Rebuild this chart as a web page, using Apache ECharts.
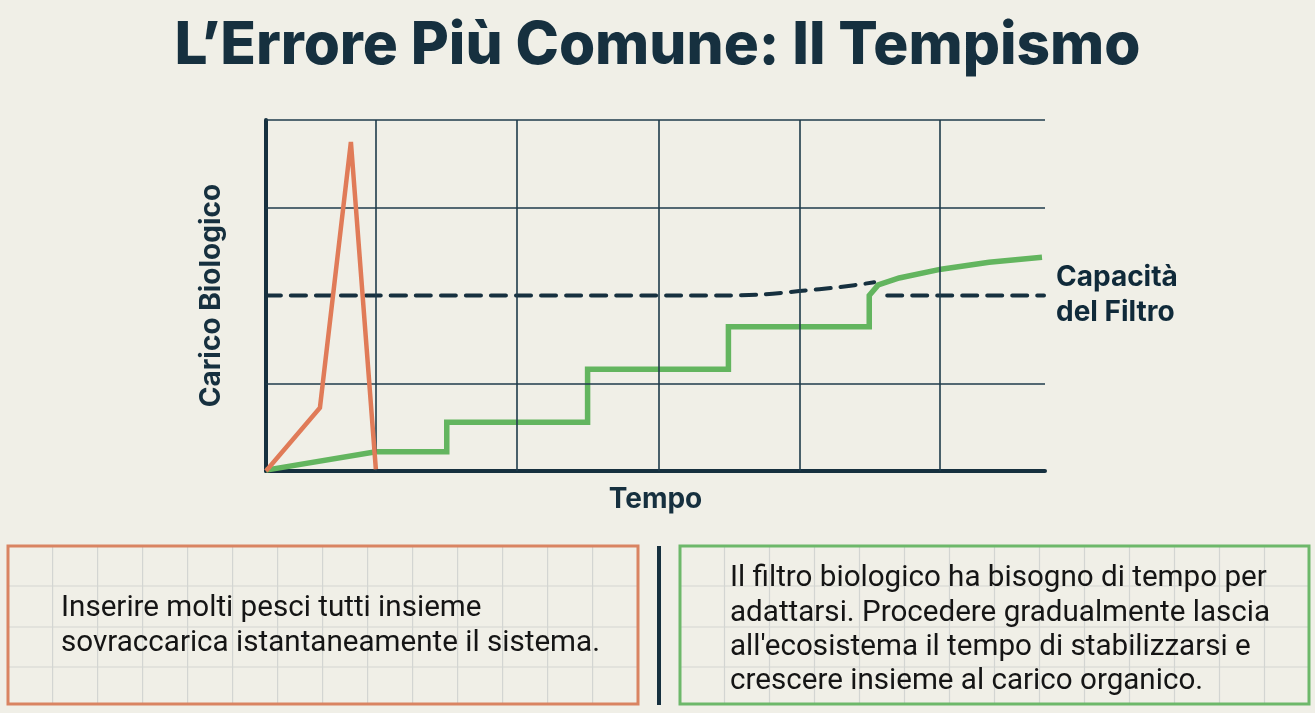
<!DOCTYPE html>
<html lang="it">
<head>
    <meta charset="UTF-8">
    <title>L'Errore Più Comune: Il Tempismo</title>
    <script src="https://cdn.jsdelivr.net/npm/echarts@6/dist/echarts.min.js"></script>
    <style>
        html, body { margin: 0; padding: 0; background: #f0efe7; }
        #main { width: 1315px; height: 713px; }
    </style>
</head>
<body>
<div id="main"></div>
<script>
    // dati (tempo in unità arbitrarie, carico 0-4)
    var picco = [[0, 0], [5.4, 0.72], [8.5, 3.75], [11.0, 0.02]];
    var graduale = [[0, 0.01], [11.0, 0.22], [18.1, 0.22], [18.1, 0.555], [32.2, 0.555], [32.2, 1.16],
        [46.3, 1.16], [46.3, 1.645], [60.4, 1.645], [60.4, 2.0], [61.3, 2.12], [63.4, 2.2],
        [67.6, 2.3], [72.4, 2.38], [77.7, 2.435]];
    var capacitaA = [[0, 2.0], [45.4, 2.0], [49.4, 2.01], [53.4, 2.05], [57.4, 2.095], [60.9, 2.15]];
    var capacitaB = [[62.2, 2.0], [77.9, 2.0]];
    var lineeVerticali = [11.0, 25.1, 39.3, 53.4, 67.5];
    var lineeOrizzontali = [1, 3, 4];

    var blu = '#16303f';
    var rosso = '#e07b58';
    var verde = '#63b55f';

    // riquadri in basso con la griglia da quaderno
    var grafica = [];
    function riquadro(x, w, colore, primaX) {
        grafica.push({type: 'rect', shape: {x: x, y: 546, width: w, height: 158},
            style: {fill: '#f0efe7', stroke: null}, z: 1});
        for (var gx = primaX; gx < x + w - 2; gx += 45) {
            grafica.push({type: 'line', shape: {x1: gx, y1: 547, x2: gx, y2: 703},
                style: {stroke: '#d3d5d2', lineWidth: 1.2}, z: 2});
        }
        [586, 627, 667].forEach(function (gy) {
            grafica.push({type: 'line', shape: {x1: x + 1, y1: gy, x2: x + w - 1, y2: gy},
                style: {stroke: '#d3d5d2', lineWidth: 1.2}, z: 2});
        });
        grafica.push({type: 'rect', shape: {x: x, y: 546, width: w, height: 158},
            style: {fill: null, stroke: colore, lineWidth: 3}, z: 3});
    }
    riquadro(8, 630, '#d98462', 52.6);
    riquadro(680, 629, '#6db86a', 724.5);
    grafica.push({type: 'line', shape: {x1: 659, y1: 546, x2: 659, y2: 705},
        style: {stroke: blu, lineWidth: 4}, z: 3});
    grafica.push({type: 'text', x: 61, y: 626, z: 4,
        style: {text: 'Inserire molti pesci tutti insieme\nsovraccarica istantaneamente il sistema.',
            font: '29.6px Roboto', fill: '#151515', lineHeight: 35, verticalAlign: 'middle'}});
    grafica.push({type: 'text', x: 730, y: 630.5, z: 4,
        style: {text: 'Il filtro biologico ha bisogno di tempo per\nadattarsi. Procedere gradualmente lascia\nall\'ecosistema il tempo di stabilizzarsi e\ncrescere insieme al carico organico.',
            font: '29.6px Roboto', fill: '#151515', lineHeight: 34.3, verticalAlign: 'middle'}});

    var myChart = echarts.init(document.getElementById('main'));
    var option = {
        backgroundColor: '#f0efe7',
        animation: false,
        title: {
            text: 'L’Errore Più Comune: Il Tempismo',
            left: 'center',
            top: 12,
            textStyle: {fontFamily: 'Inter', fontWeight: 800, fontSize: 58.5, color: blu}
        },
        grid: {left: 266, right: 270, top: 120, bottom: 242},
        xAxis: {
            type: 'value', min: 0, max: 78,
            name: 'Tempo', nameLocation: 'middle', nameGap: 15,
            nameTextStyle: {fontFamily: 'Inter', fontWeight: 'bold', fontSize: 28, color: blu},
            axisLine: {show: true, onZero: false, lineStyle: {color: blu, width: 4}},
            axisTick: {show: false}, axisLabel: {show: false}, splitLine: {show: false}
        },
        yAxis: {
            type: 'value', min: 0, max: 4,
            name: 'Carico Biologico', nameLocation: 'middle', nameGap: 40,
            nameTextStyle: {fontFamily: 'Inter', fontWeight: 'bold', fontSize: 28, color: blu},
            axisLine: {show: true, lineStyle: {color: blu, width: 4}},
            axisTick: {show: false}, axisLabel: {show: false}, splitLine: {show: false}
        },
        graphic: grafica,
        series: [
            {
                name: 'Capacità', type: 'line', data: capacitaA, symbol: 'none', smooth: 0.3, z: 2,
                lineStyle: {color: blu, width: 4, type: [15, 10], cap: 'round'},
                markLine: {
                    silent: true, symbol: 'none', label: {show: false},
                    lineStyle: {color: '#1f3b4b', width: 1.6, type: 'solid'},
                    data: lineeVerticali.map(function (v) { return {xAxis: v}; })
                        .concat(lineeOrizzontali.map(function (v) { return {yAxis: v}; }))
                }
            },
            {
                name: 'Capacità del Filtro', type: 'line', data: capacitaB, symbol: 'none', z: 2,
                lineStyle: {color: blu, width: 4, type: [15, 10], cap: 'round'},
                endLabel: {
                    show: true, formatter: 'Capacità\ndel Filtro', distance: 12,
                    fontFamily: 'Inter', fontWeight: 'bold', fontSize: 28, lineHeight: 35, color: '#102a3a'
                }
            },
            {
                name: 'Graduale', type: 'line', data: graduale, symbol: 'none', z: 4,
                lineStyle: {color: verde, width: 5.5, join: 'miter'}
            },
            {
                name: 'Tutti insieme', type: 'line', data: picco, symbol: 'none', z: 5,
                lineStyle: {color: rosso, width: 4.5, join: 'miter'}
            }
        ]
    };
    myChart.setOption(option);
</script>
</body>
</html>
